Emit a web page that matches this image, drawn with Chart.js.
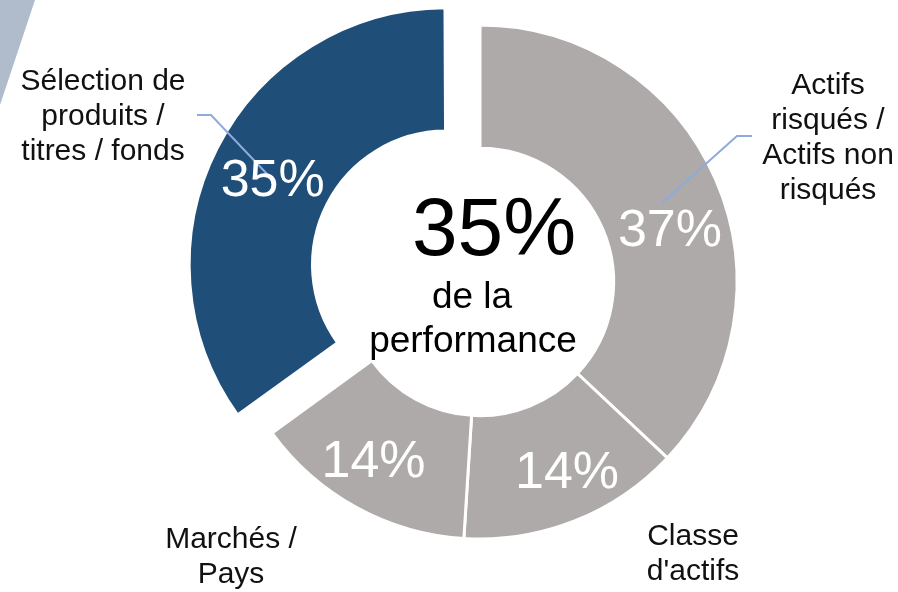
<!DOCTYPE html>
<html>
<head>
<meta charset="utf-8">
<script src="https://cdn.jsdelivr.net/npm/chart.js@4"></script>
<style>
  html, body { margin: 0; padding: 0; background: #fff; }
  #wrap { width: 898px; height: 592px; position: relative; }
</style>
</head>
<body>
<div id="wrap"><canvas id="perfChart"></canvas></div>
<script>
// données
const categories = [
    ['Actifs', 'risqués /', 'Actifs non', 'risqués'],
    ["Classe", "d'actifs"],
    ['Marchés /', 'Pays'],
    ['Sélection de', 'produits /', 'titres / fonds']
];
const shares = [37, 14, 14, 35];
const sliceColors = ['#aeaaaa', '#aeaaaa', '#aeaaaa', '#1f4e79'];
const explode = [0, 0, 0, 38];   // décalage visible en px
const centerLines = ['35%', 'de la', 'performance'];

const FONT = '"Liberation Sans", Arial, sans-serif';

// petit réglage de position des pourcentages (degrés, rayon)
const pctNudge = [[8, 197], [-3, 209], [2, 208], [-1, 193]];
// position des libellés extérieurs par rapport au centre du graphique
const outerLabelPos = [
    { dx: 348, dy: -196 },
    { dx: 213, dy: 255 },
    { dx: -249, dy: 258 },
    { dx: -377, dy: -200 }
];
const leaderLines = [
    [[272, -146], [257, -146], [182, -79]],
    [[-283, -167], [-269, -167], [-212, -107]]
];

const labelsPlugin = {
    id: 'labelsPlugin',
    // Chart.js agrandit le rayon d'une tranche décalée : on compense
    afterDatasetsUpdate: (chart) => {
        chart.getDatasetMeta(0).data.forEach(arc => {
            const off = (arc.options.offset || 0) / 4;
            const fix = 1 - Math.sin(Math.min(Math.PI, arc.circumference));
            arc.outerRadius -= off * fix;
            arc.innerRadius -= off * fix;
        });
    },
    afterDraw: (chart) => {
        const ctx = chart.ctx;
        const arcs = chart.getDatasetMeta(0).data;
        const cx = arcs[0].x, cy = arcs[0].y;

        ctx.save();

        // décor en haut à gauche
        ctx.fillStyle = '#b0bccc';
        ctx.beginPath();
        ctx.moveTo(0, 0);
        ctx.lineTo(35, 0);
        ctx.lineTo(0, 105);
        ctx.closePath();
        ctx.fill();

        // lignes de rappel
        ctx.strokeStyle = '#8faadc';
        ctx.lineWidth = 2;
        leaderLines.forEach(pts => {
            ctx.beginPath();
            pts.forEach((p, i) => {
                if (i === 0) ctx.moveTo(cx + p[0], cy + p[1]);
                else ctx.lineTo(cx + p[0], cy + p[1]);
            });
            ctx.stroke();
        });

        // pourcentages dans les tranches
        ctx.fillStyle = '#ffffff';
        ctx.font = '52px ' + FONT;
        ctx.textAlign = 'center';
        ctx.textBaseline = 'middle';
        arcs.forEach((arc, i) => {
            const p = arc.getProps(['x', 'y', 'startAngle', 'endAngle'], true);
            const mid = (p.startAngle + p.endAngle) / 2;
            const ox = p.x + Math.cos(mid) * explode[i];
            const oy = p.y + Math.sin(mid) * explode[i];
            const a = mid + pctNudge[i][0] * Math.PI / 180;
            const r = pctNudge[i][1];
            ctx.fillText(shares[i] + '%', ox + Math.cos(a) * r, oy + Math.sin(a) * r + 2);
        });

        // libellés extérieurs
        ctx.fillStyle = '#111111';
        ctx.font = '30px ' + FONT;
        categories.forEach((lines, i) => {
            const pos = outerLabelPos[i];
            lines.forEach((line, j) => {
                ctx.fillText(line, cx + pos.dx, cy + pos.dy + j * 35);
            });
        });

        // texte central
        ctx.fillStyle = '#000000';
        ctx.textBaseline = 'alphabetic';
        ctx.font = '82px ' + FONT;
        ctx.fillText(centerLines[0], cx + 14, cy - 27);
        ctx.font = '37px ' + FONT;
        ctx.fillText(centerLines[1], cx - 8, cy + 26);
        ctx.fillText(centerLines[2], cx - 7, cy + 70);

        ctx.restore();
    }
};

const ctx = document.getElementById('perfChart').getContext('2d');

new Chart(ctx, {
    type: 'doughnut',
    data: {
        labels: categories.map(l => l.join(' ')),
        datasets: [{
            data: shares,
            backgroundColor: sliceColors,
            borderColor: '#ffffff',
            borderWidth: 3,
            // Chart.js divise l'offset par 4 au dessin
            offset: explode.map(o => o * 4)
        }]
    },
    options: {
        responsive: true,
        maintainAspectRatio: false,
        animation: false,
        radius: 257,
        cutout: '52%',
        layout: {
            padding: { left: 62, top: 0, right: 0, bottom: 28 }
        },
        plugins: {
            legend: { display: false },
            tooltip: { enabled: false }
        }
    },
    plugins: [labelsPlugin]
});
</script>
</body>
</html>
